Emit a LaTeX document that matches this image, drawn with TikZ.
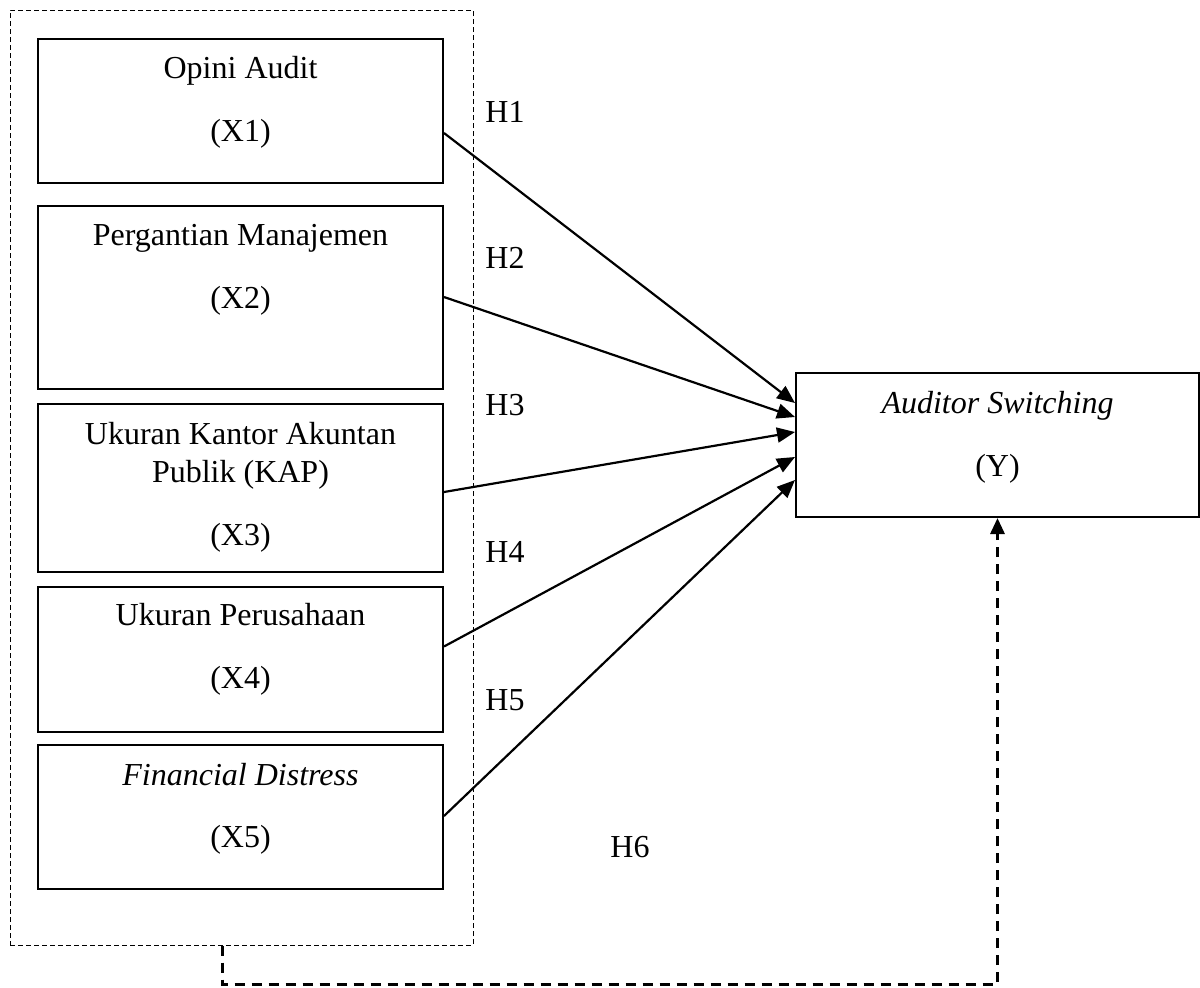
\documentclass[tikz,border=0pt]{standalone}
\usepackage{fontspec}
\setmainfont{Liberation Serif}
\usetikzlibrary{arrows.meta,calc}
\begin{document}
\begin{tikzpicture}[x=0.5pt,y=-0.5pt,
  varbox/.style={draw,line width=1pt,rectangle,inner sep=0pt},
  lbl/.style={anchor=base,inner sep=0pt,font=\fontsize{16pt}{18.5pt}\selectfont},
  hlbl/.style={anchor=base west,inner sep=0pt,font=\fontsize{16pt}{18.5pt}\selectfont},
  link/.style={line width=1.1pt,-{Triangle[length=9pt,width=7.5pt]}},
  grpbox/.style={draw,line width=0.5pt,dash pattern=on 2.5pt off 1.5pt,rectangle,inner sep=0pt},
  h6line/.style={line width=1.5pt,dash pattern=on 5pt off 3.5pt,-{Triangle[length=8pt,width=7pt]}}]
\useasboundingbox (0,0) rectangle (1200,987);

% group box
\node[grpbox,minimum width=463*0.5pt,minimum height=935*0.5pt] (grp) at (241.5,477.5) {};

% variable boxes
\node[varbox,minimum width=405*0.5pt,minimum height=144*0.5pt] (x1) at (240.5,111) {};
\node[varbox,minimum width=405*0.5pt,minimum height=183*0.5pt] (x2) at (240.5,297.5) {};
\node[varbox,minimum width=405*0.5pt,minimum height=168*0.5pt] (x3) at (240.5,488) {};
\node[varbox,minimum width=405*0.5pt,minimum height=145*0.5pt] (x4) at (240.5,659.5) {};
\node[varbox,minimum width=405*0.5pt,minimum height=144*0.5pt] (x5) at (240.5,817) {};
\node[varbox,minimum width=403*0.5pt,minimum height=144*0.5pt] (y) at (997.5,445) {};

% box texts
\node[lbl] (t1a) at (240.5,78) {Opini Audit};
\node[lbl] (t1b) at (240.5,141) {(X1)};
\node[lbl] (t2a) at (240.5,245) {Pergantian Manajemen};
\node[lbl] (t2b) at (240.5,308) {(X2)};
\node[lbl] (t3a) at (240.5,444) {Ukuran Kantor Akuntan};
\node[lbl] (t3b) at (240.5,482) {Publik (KAP)};
\node[lbl] (t3c) at (240.5,545) {(X3)};
\node[lbl] (t4a) at (240.5,625) {Ukuran Perusahaan};
\node[lbl] (t4b) at (240.5,688) {(X4)};
\node[lbl] (t5a) at (240.5,785) {\itshape Financial Distress};
\node[lbl] (t5b) at (240.5,847) {(X5)};
\node[lbl] (tya) at (997.5,413) {\itshape Auditor Switching};
\node[lbl] (tyb) at (997.5,476) {(Y)};

% hypothesis labels
\node[hlbl] (h1) at (485,122) {H1};
\node[hlbl] (h2) at (485,268) {H2};
\node[hlbl] (h3) at (485,415) {H3};
\node[hlbl] (h4) at (485,562) {H4};
\node[hlbl] (h5) at (485,710) {H5};
\node[hlbl] (h6) at (610,857) {H6};

% arrows
\draw[link] ($(x1.east)+(0,22)$) -- ($(y.west)+(0,-42)$);
\draw[link] ($(x2.east)+(0,-0.5)$) -- ($(y.west)+(0,-28)$);
\draw[link] ($(x3.east)+(0,4)$) -- ($(y.west)+(0,-13)$);
\draw[link] ($(x4.east)+(0,-13)$) -- ($(y.west)+(0,12)$);
\draw[link] ($(x5.east)+(0,-1)$) -- ($(y.west)+(0,35)$);

% H6 dashed connector
\coordinate (h6c) at (222,984);
\draw[h6line] (grp.south -| h6c) -- (h6c) -- (y.south |- h6c) -- (y.south);
\end{tikzpicture}
\end{document}
